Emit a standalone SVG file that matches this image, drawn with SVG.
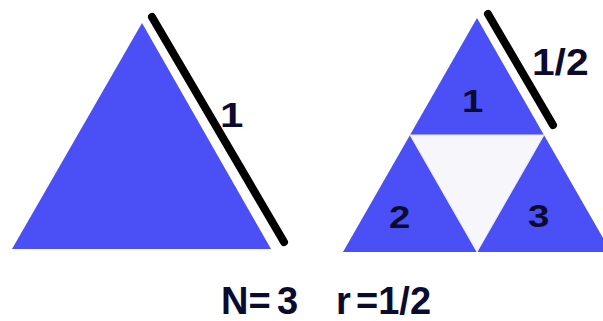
<svg xmlns="http://www.w3.org/2000/svg" width="603" height="321" viewBox="0 0 603 321">
<style>
.blue{fill:#4b4ff6}
.hole{fill:#f6f6fb;stroke:#e8e8f6;stroke-width:1}
.bar{stroke:#000;stroke-width:8;stroke-linecap:round;fill:none}
.lbl{font-family:"Liberation Sans",Arial,sans-serif;font-weight:bold;fill:#0b0b2e}
</style>
<rect width="603" height="321" fill="#fff"/>
<g id="big-triangle">
<polygon class="blue" points="142,23 12,249 271,249"/>
<line class="bar" x1="152" y1="17" x2="284" y2="242"/>
<text class="lbl" font-size="35" transform="translate(220,127) scale(1.2,1)">1</text>
</g>
<g id="sierpinski">
<polygon class="blue" points="477,18 343,252 611,252"/>
<polygon class="hole" points="410,135 544,135 477,252"/>
<line class="bar" x1="488" y1="14" x2="553" y2="125"/>
<text class="lbl" font-size="37" transform="translate(532,75) scale(1.1,1)">1/2</text>
<text class="lbl" font-size="32" transform="translate(462,112) scale(1.2,1)">1</text>
<text class="lbl" font-size="32" transform="translate(389,228) scale(1.2,1)">2</text>
<text class="lbl" font-size="32" transform="translate(528,227) scale(1.2,1)">3</text>
</g>
<g id="caption">
<text class="lbl" font-size="38" y="314"><tspan x="221">N=</tspan><tspan x="277">3</tspan><tspan x="336">r</tspan><tspan x="356">=1/2</tspan></text>
</g>
</svg>
